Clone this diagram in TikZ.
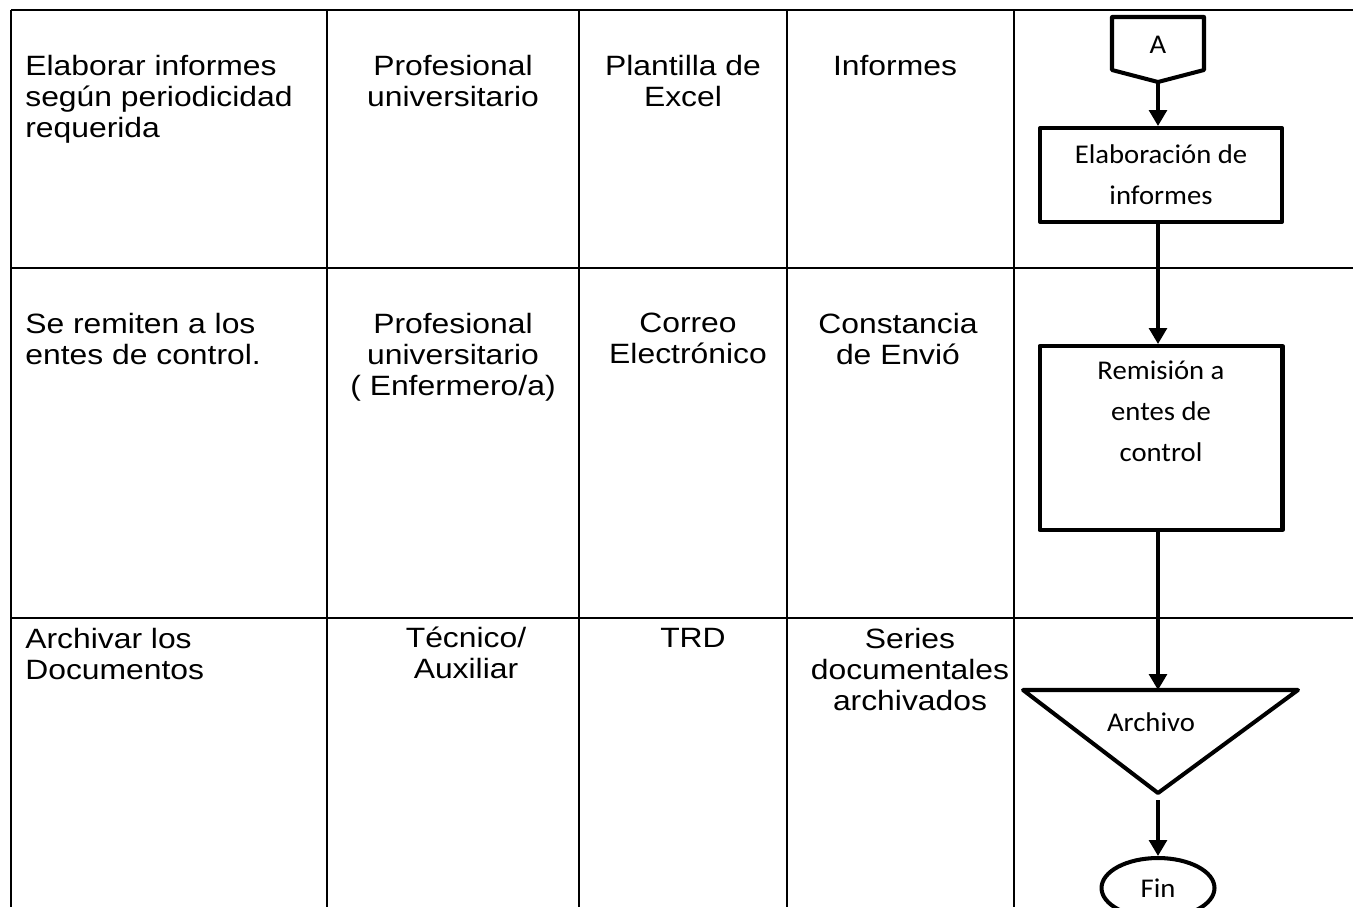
\documentclass[tikz,border=0pt]{standalone}
\usepackage{fontspec}
\setmainfont[FakeStretch=1.14]{Liberation Sans}
\newfontfamily\boxfont[FakeStretch=1.06]{Carlito}
\usetikzlibrary{arrows.meta,shapes.geometric}

\tikzset{
    rule/.style={line width=1.4pt},
    cell/.style={inner sep=0pt, align=center, anchor=north, font=\fontsize{15.9}{17.6}\selectfont},
    lcell/.style={cell, align=left, anchor=north west},
    outline/.style={line width=2.3pt, line join=round},
    proc/.style={draw, outline, rectangle, align=center, font=\boxfont\fontsize{15.4}{23.3}\selectfont},
    flow/.style={line width=2pt, -{Triangle[length=9pt,width=10pt]}},
}

\begin{document}
\begin{tikzpicture}[x=0.02cm, y=-0.02cm]
    \clip (0,0) rectangle (1353,907);

    % table rules
    \foreach \r in {10, 268, 618}
        \draw[rule] (11,\r) -- (1353,\r);
    \foreach \c in {11, 327, 579, 787, 1014}
        \draw[rule] (\c,10) -- (\c,907);

    % row 1
    \node[lcell] (act1) at (25,55) {Elaborar informes\\según periodicidad\\requerida};
    \node[cell] (resp1) at (453,55) {Profesional\\universitario};
    \node[cell] (tool1) at (683,55) {Plantilla de\\Excel};
    \node[cell] (doc1) at (895,55) {Informes};

    % row 2
    \node[lcell] (act2) at (25,313) {Se remiten a los\\entes de control.};
    \node[cell] (resp2) at (453,313) {Profesional\\universitario\\( Enfermero/a)};
    \node[cell] (tool2) at (688,313) {Correo\\Electrónico};
    \node[cell] (doc2) at (898,313) {Constancia\\de Envió};

    % row 3
    \node[lcell] (act3) at (25,628) {Archivar los\\Documentos};
    \node[cell] (resp3) at (466,627) {Técnico/\\Auxiliar};
    \node[cell] (tool3) at (693,628) {TRD};
    \node[cell] (doc3) at (910,628) {Series\\documentales\\archivados};

    % flow chart
    \node[inner sep=0pt, font=\boxfont\fontsize{15.4}{18}\selectfont] (A) at (1158,45) {A};
    \draw[outline] (1112,17) -- (1204,17) -- (1204,70) -- (1158,82) -- (1112,70) -- cycle;
    \coordinate (Atip) at (1158,82);

    \node[proc, minimum width=4.84cm, minimum height=1.88cm] (elab) at (1161,175) {Elaboración de\\informes};
    \node[proc, minimum width=4.86cm, minimum height=3.68cm] (remi) at (1161,438) {Remisión a\\entes de\\control\\ \strut};

    \draw[outline] (1023,690) -- (1298,690) -- (1158,793) -- cycle;
    \coordinate (archtop) at (1158,690);
    \coordinate (archtip) at (1158,793);
    \node[inner sep=0pt, font=\boxfont\fontsize{15.4}{18}\selectfont] (arch) at (1151,722) {Archivo};

    \node[draw, outline, ellipse, inner sep=0pt, minimum width=2.26cm, minimum height=1.2cm,
        font=\boxfont\fontsize{15.4}{18}\selectfont] (fin) at (1158,888) {Fin};

    \draw[flow] (Atip) -- (Atip |- elab.north);
    \draw[flow] (elab.south -| Atip) -- (Atip |- remi.north);
    \draw[flow] (remi.south -| Atip) -- (archtop);
    \draw[flow, shorten <=0.14cm] (archtip) -- (fin.north);
\end{tikzpicture}
\end{document}
